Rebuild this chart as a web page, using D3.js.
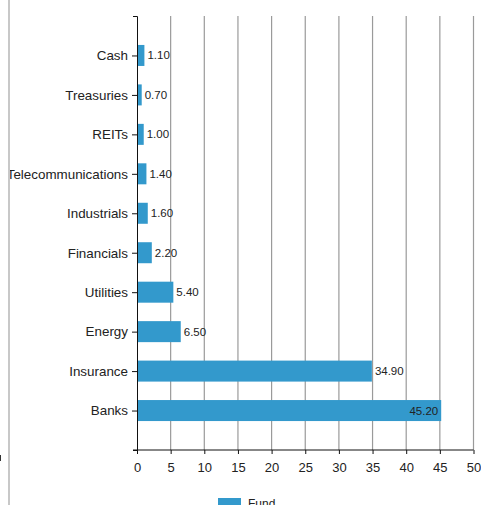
<!DOCTYPE html>
<html>
<head>
<meta charset="utf-8">
<script src="https://cdn.jsdelivr.net/npm/d3@7"></script>
<style>
  body { margin: 0; background: #fff; }
  svg { display: block; font-family: "Liberation Sans", Arial, sans-serif; }
</style>
</head>
<body>
<script>
// data
const categories = ['Cash', 'Treasuries', 'REITs', 'Telecommunications', 'Industrials',
                    'Financials', 'Utilities', 'Energy', 'Insurance', 'Banks'];
const fundValues = [1.10, 0.70, 1.00, 1.40, 1.60, 2.20, 5.40, 6.50, 34.90, 45.20];
const xTicks = [0, 5, 10, 15, 20, 25, 30, 35, 40, 45, 50];
const seriesName = 'Fund';

const width = 481, height = 505;
const margin = {top: 16, right: 7.5, bottom: 55, left: 137};
const w = width - margin.left - margin.right;
const h = height - margin.top - margin.bottom;
const barColor = '#3399cc';

const svg = d3.select('body').append('svg')
    .attr('width', width)
    .attr('height', height);

// small mark at the far left
svg.append('line')
    .attr('x1', 0.5).attr('x2', 0.5)
    .attr('y1', 455).attr('y2', 461)
    .attr('stroke', '#333');

const g = svg.append('g')
    .attr('transform', `translate(${margin.left},${margin.top})`);

const x = d3.scaleLinear().domain([0, 50]).range([0, w]);
const y = d3.scalePoint().domain(categories).range([0, h]).padding(1);

// vertical gridlines
g.selectAll('.grid')
    .data(xTicks.filter(d => d > 0))
    .enter().append('line')
    .attr('x1', d => x(d)).attr('x2', d => x(d))
    .attr('y1', 0).attr('y2', h)
    .attr('stroke', '#9a9a9a')
    .attr('stroke-width', 1.2);

// bars
const barH = 21;
g.selectAll('.bar')
    .data(fundValues)
    .enter().append('rect')
    .attr('x', 0)
    .attr('y', (d, i) => y(categories[i]) - barH / 2)
    .attr('width', d => x(d))
    .attr('height', barH)
    .attr('fill', barColor);

// value labels, inside the bar when it gets near the right edge
g.selectAll('.val')
    .data(fundValues)
    .enter().append('text')
    .attr('y', (d, i) => y(categories[i]))
    .attr('dy', '0.35em')
    .attr('font-size', '11.5px')
    .attr('fill', '#222')
    .text(d => d.toFixed(2))
    .each(function(d) {
        const sel = d3.select(this);
        if (x(d) > w * 0.85) {
            sel.attr('x', x(d) - 3).attr('text-anchor', 'end');
        } else {
            sel.attr('x', x(d) + 3).attr('text-anchor', 'start');
        }
    });

// x axis
const xAxis = g.append('g')
    .attr('transform', `translate(0,${h})`)
    .call(d3.axisBottom(x).tickValues(xTicks).tickSize(4).tickSizeOuter(0));
xAxis.select('.domain').attr('d', `M-4,0H${w}`).attr('stroke', '#111');
xAxis.selectAll('.tick line').attr('stroke', '#111');
xAxis.selectAll('.tick text')
    .attr('font-size', '13px')
    .attr('fill', '#222')
    .attr('y', 13);

// y axis
const yAxis = g.append('g')
    .call(d3.axisLeft(y).tickSize(5).tickSizeOuter(4));
yAxis.select('.domain').attr('stroke', '#111');
yAxis.selectAll('.tick line').attr('stroke', '#111');
yAxis.selectAll('.tick text')
    .attr('font-size', '13.4px')
    .attr('fill', '#222')
    .attr('x', -9);

// legend
const legend = svg.append('g').attr('transform', 'translate(218,498)');
legend.append('rect')
    .attr('width', 23).attr('height', 12)
    .attr('fill', barColor);
legend.append('text')
    .attr('x', 30).attr('y', 10)
    .attr('font-size', '12px')
    .attr('fill', '#222')
    .text(seriesName);

// left frame line drawn over the long label
svg.append('rect')
    .attr('x', 0).attr('y', 0)
    .attr('width', 8).attr('height', height)
    .attr('fill', '#fff');
svg.append('line')
    .attr('x1', 9).attr('x2', 9)
    .attr('y1', 0).attr('y2', height)
    .attr('stroke', '#c8c8c8')
    .attr('stroke-width', 2);
svg.append('line')
    .attr('x1', 0.5).attr('x2', 0.5)
    .attr('y1', 455).attr('y2', 461)
    .attr('stroke', '#333');
</script>
</body>
</html>
